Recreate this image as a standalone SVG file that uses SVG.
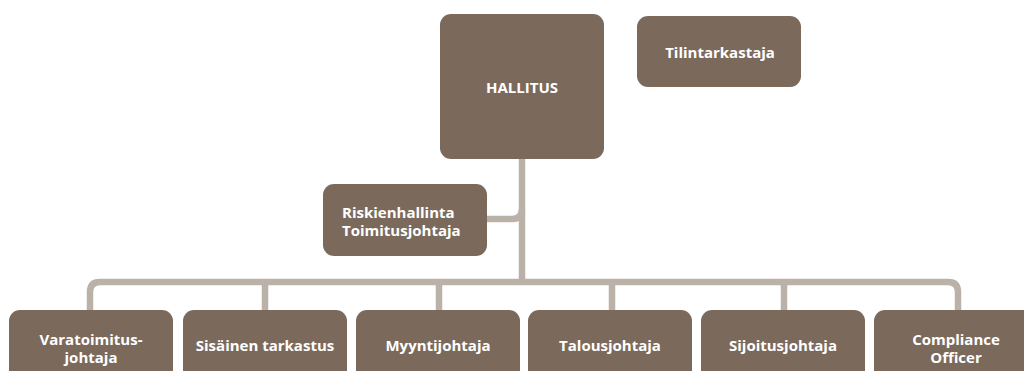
<svg xmlns="http://www.w3.org/2000/svg" width="1024" height="371" viewBox="0 0 1024 371">
<style>
.box{fill:#7b6a5c}
.lbl{font-family:"Open Sans","Noto Sans","DejaVu Sans",sans-serif;font-weight:bold;font-size:15px;fill:#ffffff;text-anchor:middle;dominant-baseline:central}
.con{fill:none;stroke:#bab1a9;stroke-width:6.5;stroke-linejoin:round}
</style>
<rect width="1024" height="371" fill="#ffffff"/>
<g id="connectors">
<path class="con" d="M522 159 V282"/>
<path class="con" d="M487 219 H512 Q522 219 522 209"/>
<path class="con" d="M90 312 V292 Q90 282 100 282 H948 Q958 282 958 292 V312"/>
<path class="con" d="M265 282 V312"/>
<path class="con" d="M439 282 V312"/>
<path class="con" d="M612 282 V312"/>
<path class="con" d="M784 282 V312"/>
</g>
<g id="hallitus">
<rect class="box" x="440" y="14" width="164" height="145" rx="11"/>
<text class="lbl" x="522" y="87">HALLITUS</text>
</g>
<g id="tilintarkastaja">
<rect class="box" x="637" y="16" width="164" height="71" rx="11"/>
<text class="lbl" x="720" y="52">Tilintarkastaja</text>
</g>
<g id="riskienhallinta">
<rect class="box" x="323" y="184" width="164" height="72" rx="11"/>
<text class="lbl" x="342" y="212" style="text-anchor:start">Riskienhallinta</text>
<text class="lbl" x="342" y="230" style="text-anchor:start">Toimitusjohtaja</text>
</g>
<g id="varatoimitusjohtaja">
<rect class="box" x="9" y="310" width="164" height="72" rx="11"/>
<text class="lbl" x="91" y="339">Varatoimitus-</text>
<text class="lbl" x="91" y="357">johtaja</text>
</g>
<g id="sisainen">
<rect class="box" x="183" y="310" width="164" height="72" rx="11"/>
<text class="lbl" x="265" y="345">Sisäinen tarkastus</text>
</g>
<g id="myyntijohtaja">
<rect class="box" x="356" y="310" width="164" height="72" rx="11"/>
<text class="lbl" x="438" y="345">Myyntijohtaja</text>
</g>
<g id="talousjohtaja">
<rect class="box" x="528" y="310" width="164" height="72" rx="11"/>
<text class="lbl" x="610" y="345">Talousjohtaja</text>
</g>
<g id="sijoitusjohtaja">
<rect class="box" x="701" y="310" width="164" height="72" rx="11"/>
<text class="lbl" x="783" y="345">Sijoitusjohtaja</text>
</g>
<g id="compliance">
<rect class="box" x="874" y="310" width="164" height="72" rx="11"/>
<text class="lbl" x="956" y="339">Compliance</text>
<text class="lbl" x="956" y="357">Officer</text>
</g>
</svg>
